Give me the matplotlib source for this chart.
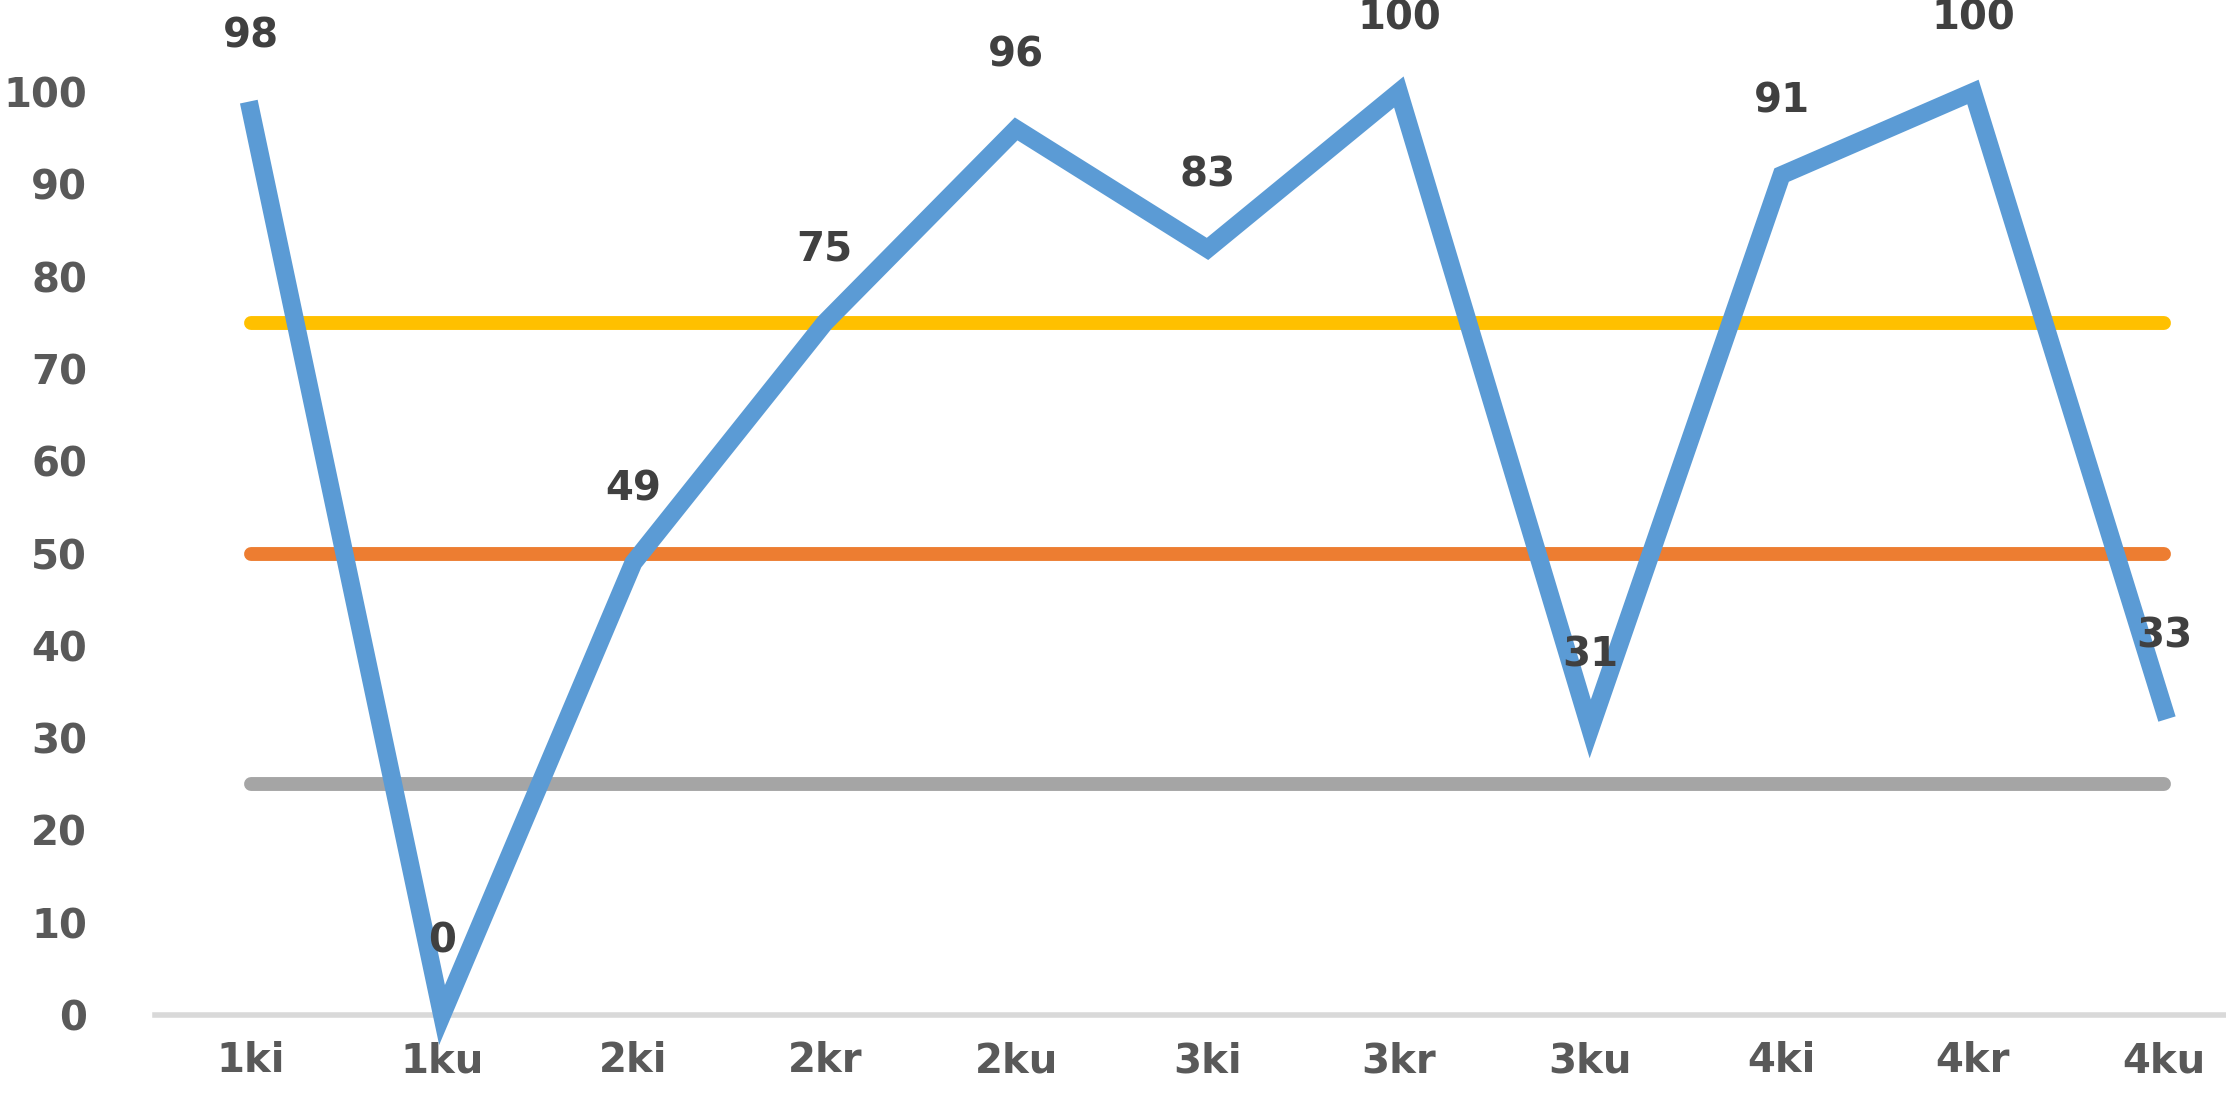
import matplotlib
matplotlib.use("Agg")
import matplotlib.pyplot as plt

categories = ["1ki", "1ku", "2ki", "2kr", "2ku", "3ki", "3kr", "3ku", "4ki", "4kr", "4ku"]
scores = [98, 0, 49, 75, 96, 83, 100, 31, 91, 100, 33]
level_75 = [75, 75, 75, 75, 75, 75, 75, 75, 75, 75, 75]
level_50 = [50, 50, 50, 50, 50, 50, 50, 50, 50, 50, 50]
level_25 = [25, 25, 25, 25, 25, 25, 25, 25, 25, 25, 25]
yticks = [0, 10, 20, 30, 40, 50, 60, 70, 80, 90, 100]

text_col = "#595959"

fig = plt.figure(figsize=(22.26, 11.13), dpi=100)
# l'axe depasse a droite comme dans l'image d'origine (recadree)
ax = fig.add_axes([155 / 2226, 98 / 1113, 2105 / 2226, 923 / 1113])

x = list(range(len(categories)))

ax.plot(x, level_25, color="#A5A5A5", lw=10, solid_capstyle="round", clip_on=False)
ax.plot(x, level_50, color="#ED7D31", lw=10, solid_capstyle="round", clip_on=False)
ax.plot(x, level_75, color="#FFC000", lw=10, solid_capstyle="round", clip_on=False)
ax.plot(x, scores, color="#5B9BD5", lw=13, solid_joinstyle="miter", clip_on=False, zorder=5)

# etiquettes de donnees au-dessus des points (le haut est coupe comme dans l'original)
for xi, v in zip(x, scores):
    ax.annotate(str(v), (xi, v), xytext=(0, 53), textcoords="offset points",
                ha="center", va="center", fontsize=29, fontweight="bold",
                color="#404040", annotation_clip=False, zorder=6)

ax.set_xlim(-0.5, 10.5)
ax.set_ylim(0, 100)
ax.set_yticks(yticks)
ax.set_xticks(x)
ax.set_xticklabels(categories)

for s in ["top", "right", "left"]:
    ax.spines[s].set_visible(False)
ax.spines["bottom"].set_color("#D9D9D9")
ax.spines["bottom"].set_linewidth(4)

ax.tick_params(axis="both", length=0, labelsize=29, labelcolor=text_col)
ax.tick_params(axis="y", pad=49)
ax.tick_params(axis="x", pad=19)
for lab in ax.get_xticklabels() + ax.get_yticklabels():
    lab.set_fontweight("bold")

fig.savefig("out.png", dpi=100)
